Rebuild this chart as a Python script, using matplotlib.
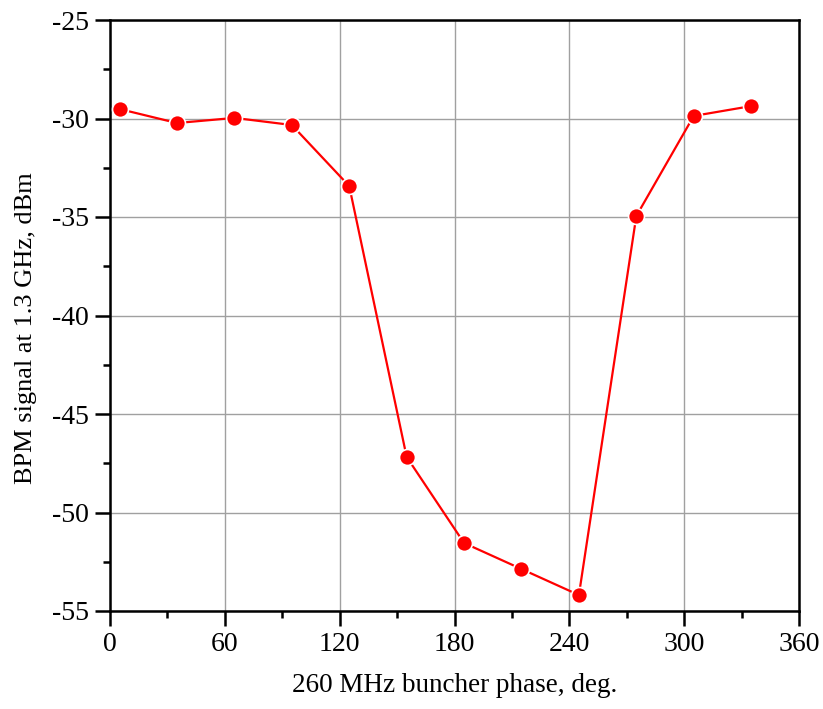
import matplotlib
matplotlib.use('Agg')
import matplotlib.pyplot as plt
from matplotlib.ticker import MultipleLocator

# buncher phase scan, BPM response
phase = [5, 35, 65, 95, 125, 155, 185, 215, 245, 275, 305, 335]
signal = [-29.52, -30.23, -29.97, -30.33, -33.43, -47.18,
          -51.55, -52.87, -54.19, -34.95, -29.87, -29.37]

plt.rcParams['font.family'] = ['Liberation Serif', 'DejaVu Serif']
plt.rcParams['axes.unicode_minus'] = False

fig = plt.figure(figsize=(8.23, 7.09), dpi=100)
ax = fig.add_axes([110/823, 1 - 611/709, 689/823, 591/709])

ax.plot(phase, signal, color='red', lw=1.6, marker='o', ms=11.5,
        mfc='red', mec='white', mew=1.2, zorder=3)

ax.set_xlim(0, 360)
ax.set_ylim(-55, -25)
ax.xaxis.set_major_locator(MultipleLocator(60))
ax.xaxis.set_minor_locator(MultipleLocator(30))
ax.yaxis.set_major_locator(MultipleLocator(5))
ax.yaxis.set_minor_locator(MultipleLocator(2.5))

ax.grid(True, which='major', color='#a0a0a0', lw=1.0, zorder=0)
ax.tick_params(which='major', direction='out', length=11, width=1.8,
               labelsize=20, pad=4)
ax.tick_params(which='minor', direction='out', length=5, width=1.8)
for sp in ax.spines.values():
    sp.set_linewidth(1.8)

ax.set_xlabel('260 MHz buncher phase, deg.', fontsize=19.5)
ax.set_ylabel('BPM signal at 1.3 GHz, dBm', fontsize=19)
ax.xaxis.set_label_coords(0.5, -0.105)
ax.yaxis.set_label_coords(-0.106, 0.478)

fig.savefig('out.png', dpi=100)
